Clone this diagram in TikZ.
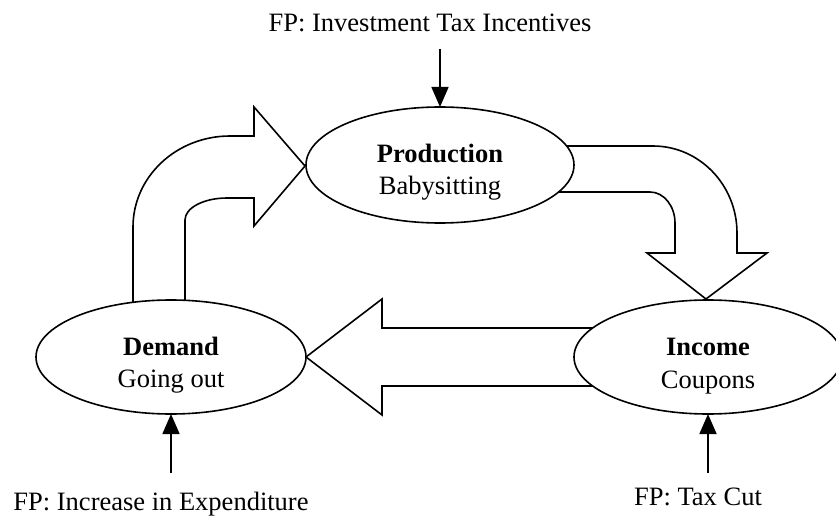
\documentclass[tikz,border=0pt]{standalone}
\usepackage{fontspec}
\setmainfont{Liberation Serif}
\usetikzlibrary{arrows.meta,shapes.geometric}
\begin{document}
\begin{tikzpicture}[x=1pt,y=-1pt,
  lbl/.style={anchor=base,inner sep=0pt,font=\fontsize{26.5pt}{32pt}\selectfont},
  oval/.style={ellipse,draw,fill=white,line width=1.6pt,inner sep=0pt,outer sep=0pt},
  flow/.style={draw,line width=1.6pt,line join=miter},
  fparrow/.style={line width=1.6pt,-{Triangle[length=20pt,width=17pt]}}]
\useasboundingbox (0,0) rectangle (836,516);
% block arrow: Demand -> Production
\draw[flow] (133,320) -- (133,227)
  .. controls (133,176.7) and (176.4,136) .. (230,136)
  -- (254,136) -- (254,107) -- (305,166) -- (254,226) -- (254,198) -- (227,198)
  .. controls (203.8,198) and (185,207.8) .. (185,220) -- (185,320);
% block arrow: Production -> Income
\draw[flow] (540,146) -- (653,146)
  .. controls (699.4,146) and (737,185) .. (737,233)
  -- (737,253) -- (767,253) -- (706,299) -- (647,253) -- (675,253) -- (675,223)
  .. controls (675,205.9) and (663.8,192) .. (650,192) -- (540,192);
% block arrow: Income -> Demand
\draw[flow] (620,328) -- (382,328) -- (382,299) -- (306,357) -- (382,415) -- (382,386) -- (620,386);
% ellipses
\node[oval,minimum width=268pt,minimum height=116pt] (prod) at (440,165) {};
\node[oval,minimum width=270pt,minimum height=114pt] (dem) at (171,357) {};
\node[oval,minimum width=268pt,minimum height=114pt] (inc) at (708,357) {};
% texts
\node[lbl] (toptxt) at (430,32) {FP: Investment Tax Incentives};
\node[lbl] (prod1) at (440,163) {\textbf{Production}};
\node[lbl] (prod2) at (440,195) {Babysitting};
\node[lbl] (dem1) at (171,355) {\textbf{Demand}};
\node[lbl] (dem2) at (171,387) {Going out};
\node[lbl] (inc1) at (708,355) {\textbf{Income}};
\node[lbl] (inc2) at (708,388) {Coupons};
\node[lbl] (demtxt) at (161,510) {FP: Increase in Expenditure};
\node[lbl] (inctxt) at (698,505) {FP: Tax Cut};
% policy arrows
\coordinate (topfp) at (440,49);
\coordinate (demfp) at (171,473);
\coordinate (incfp) at (708,473);
\draw[fparrow] (topfp) -- (prod.north);
\draw[fparrow] (demfp) -- (dem.south);
\draw[fparrow] (incfp) -- (inc.south);
\end{tikzpicture}
\end{document}
